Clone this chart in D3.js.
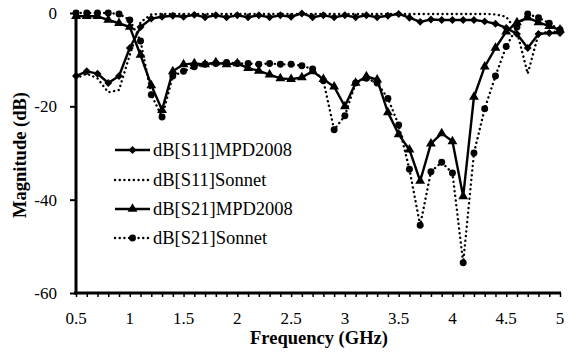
<!DOCTYPE html>
<html><head><meta charset="utf-8">
<script src="https://cdn.jsdelivr.net/npm/d3@7"></script>
<style>
body{margin:0;background:#fff}
svg{display:block}
</style>
</head><body><svg id="c" width="576" height="355"></svg>
<script>
const freqs=[0.5,0.6,0.7,0.8,0.9,1.0,1.1,1.2,1.3,1.4,1.5,1.6,1.7,1.8,1.9,2.0,2.1,2.2,2.3,2.4,2.5,2.6,2.7,2.8,2.9,3.0,3.1,3.2,3.3,3.4,3.5,3.6,3.7,3.8,3.9,4.0,4.1,4.2,4.3,4.4,4.5,4.6,4.7,4.8,4.9,5.0];
const s11MPD=[-13.5,-12.5,-13,-15,-13.5,-7.5,-3,-1.2,-0.8,-0.6,-0.8,-0.4,-0.9,-0.5,-0.9,-0.5,-0.9,-0.5,-0.9,-0.5,-0.8,-0.1,-0.9,-0.5,-0.9,-0.5,-0.9,-0.5,-0.9,-0.6,-0.2,-1.0,-1.9,-1.4,-1.5,-1.5,-1.5,-1.5,-1.8,-2.3,-3.2,-4.5,-7.5,-4.5,-4.3,-4.3];
const s11Sonnet=[-14,-13,-14,-17,-16.5,-9,-2,-0.3,-0.2,-0.2,-0.2,-0.2,-0.2,-0.2,-0.2,-0.2,-0.2,-0.2,-0.2,-0.2,-0.2,-0.2,-0.2,-0.2,-0.2,-0.2,-0.2,-0.2,-0.2,-0.2,-0.2,-0.2,-0.2,-0.2,-0.2,-0.2,-0.2,-0.2,-0.2,-0.3,-0.8,-4,-13,-4.5,-4,-4];
const s21MPD=[-0.7,-0.7,-0.7,-1.5,-2.2,-3,-9,-15.5,-20.8,-12.5,-11,-10.8,-11,-10.6,-11,-10.8,-11.8,-12.4,-13.2,-14,-14.2,-13.8,-12.5,-14.2,-15.8,-20,-15,-13.6,-14.3,-21.3,-26,-29.3,-36,-28,-25.8,-27.5,-39.3,-18,-11.5,-7.5,-4,-2,-1,-2,-2.8,-3.6];
const s21Sonnet=[0,0,0,0,-0.2,-1.5,-6,-17.5,-22.3,-13.5,-12.5,-11.5,-11,-10.8,-10.6,-10.8,-10.8,-11,-10.8,-11,-11,-11.3,-12,-14.5,-25,-22,-15,-14,-15,-18.3,-24,-33.5,-45.5,-34,-32,-34.3,-53.5,-30,-20.5,-13.5,-7.2,-3,-0.2,-1,-2.2,-3.6];
const xTickValues=[0.5,1,1.5,2,2.5,3,3.5,4,4.5,5];
const xTickLabels=["0.5","1","1.5","2","2.5","3","3.5","4","4.5","5"];
const yTickValues=[0,-20,-40,-60];
const yTickLabels=["0","-20","-40","-60"];
const seriesNames=["dB[S11]MPD2008","dB[S11]Sonnet","dB[S21]MPD2008","dB[S21]Sonnet"];

const FONT='"Liberation Serif"';
const svg=d3.select("#c");
const x=d3.scaleLinear().domain([0.5,5]).range([76,560]);
const y=d3.scaleLinear().domain([-60,0]).range([293,13]);

const series=[
  {name:seriesNames[0],vals:s11MPD,dash:null,marker:"diamond"},
  {name:seriesNames[1],vals:s11Sonnet,dash:"0.1 4.6",marker:null},
  {name:seriesNames[2],vals:s21MPD,dash:null,marker:"triangle"},
  {name:seriesNames[3],vals:s21Sonnet,dash:"0.1 4.6",marker:"circle"}
];
const symType={diamond:d3.symbolDiamond2,triangle:d3.symbolTriangle,circle:d3.symbolCircle};
const symSize={diamond:40,triangle:42,circle:38};
function sym(m){return d3.symbol().type(symType[m]).size(symSize[m])();}

// axes
const xAxis=d3.axisBottom(x).tickValues(freqs).tickSize(4).tickFormat(()=>"");
const gx=svg.append("g").attr("transform","translate(0,293)").call(xAxis);
gx.select(".domain").attr("stroke","#000").attr("stroke-width",3).attr("d","M74,0H561");
gx.selectAll(".tick line").attr("stroke","#000").attr("stroke-width",1.5);

const gxl=svg.append("g");
gxl.selectAll("text").data(xTickValues).join("text")
  .attr("x",d=>x(d)).attr("y",324).attr("text-anchor","middle")
  .attr("font-family",FONT).attr("font-size",17).text((d,i)=>xTickLabels[i]);

const yAxis=d3.axisLeft(y).tickValues(yTickValues).tickSize(6).tickFormat(()=>"");
const gy=svg.append("g").attr("transform","translate(76,0)").call(yAxis);
gy.select(".domain").attr("stroke","#000").attr("stroke-width",3).attr("d","M0,12V294.5");
gy.selectAll(".tick line").attr("stroke","#000").attr("stroke-width",2);
const gyl=svg.append("g");
gyl.selectAll("text").data(yTickValues).join("text")
  .attr("x",57).attr("y",d=>y(d)+6).attr("text-anchor","end")
  .attr("font-family",FONT).attr("font-size",17).text((d,i)=>yTickLabels[i]);

svg.append("text").attr("x",319).attr("y",344).attr("text-anchor","middle")
  .attr("font-family",FONT).attr("font-size",18.5).attr("font-weight","bold").text("Frequency (GHz)");
svg.append("text").attr("transform","translate(26,155) rotate(-90)").attr("text-anchor","middle")
  .attr("font-family",FONT).attr("font-size",18.5).attr("font-weight","bold").text("Magnitude (dB)");

// series
const line=d3.line().x((d,i)=>x(freqs[i])).y(d=>y(d));
series.forEach(s=>{
  const g=svg.append("g");
  g.append("path").attr("d",line(s.vals)).attr("fill","none").attr("stroke","#000")
    .attr("stroke-width",2.4).attr("stroke-linecap",s.dash?"round":"butt")
    .attr("stroke-linejoin","round").attr("stroke-dasharray",s.dash);
  if(s.marker){
    g.selectAll("path.m").data(s.vals).join("path").attr("class","m")
      .attr("transform",(d,i)=>`translate(${x(freqs[i])},${y(d)})`)
      .attr("d",sym(s.marker)).attr("fill","#000");
  }
});

// legend
const leg=svg.append("g");
const legY=[150,180,209,238];
series.forEach((s,i)=>{
  const yy=legY[i];
  leg.append("line").attr("x1",115).attr("x2",150).attr("y1",yy).attr("y2",yy)
    .attr("stroke","#000").attr("stroke-width",2.4).attr("stroke-linecap",s.dash?"round":"butt")
    .attr("stroke-dasharray",s.dash);
  if(s.marker){
    leg.append("path").attr("transform",`translate(132.5,${yy})`).attr("d",sym(s.marker)).attr("fill","#000");
  }
  leg.append("text").attr("x",153).attr("y",yy+6)
    .attr("font-family",FONT).attr("font-size",18.5).text(s.name);
});
</script>
</body></html>
